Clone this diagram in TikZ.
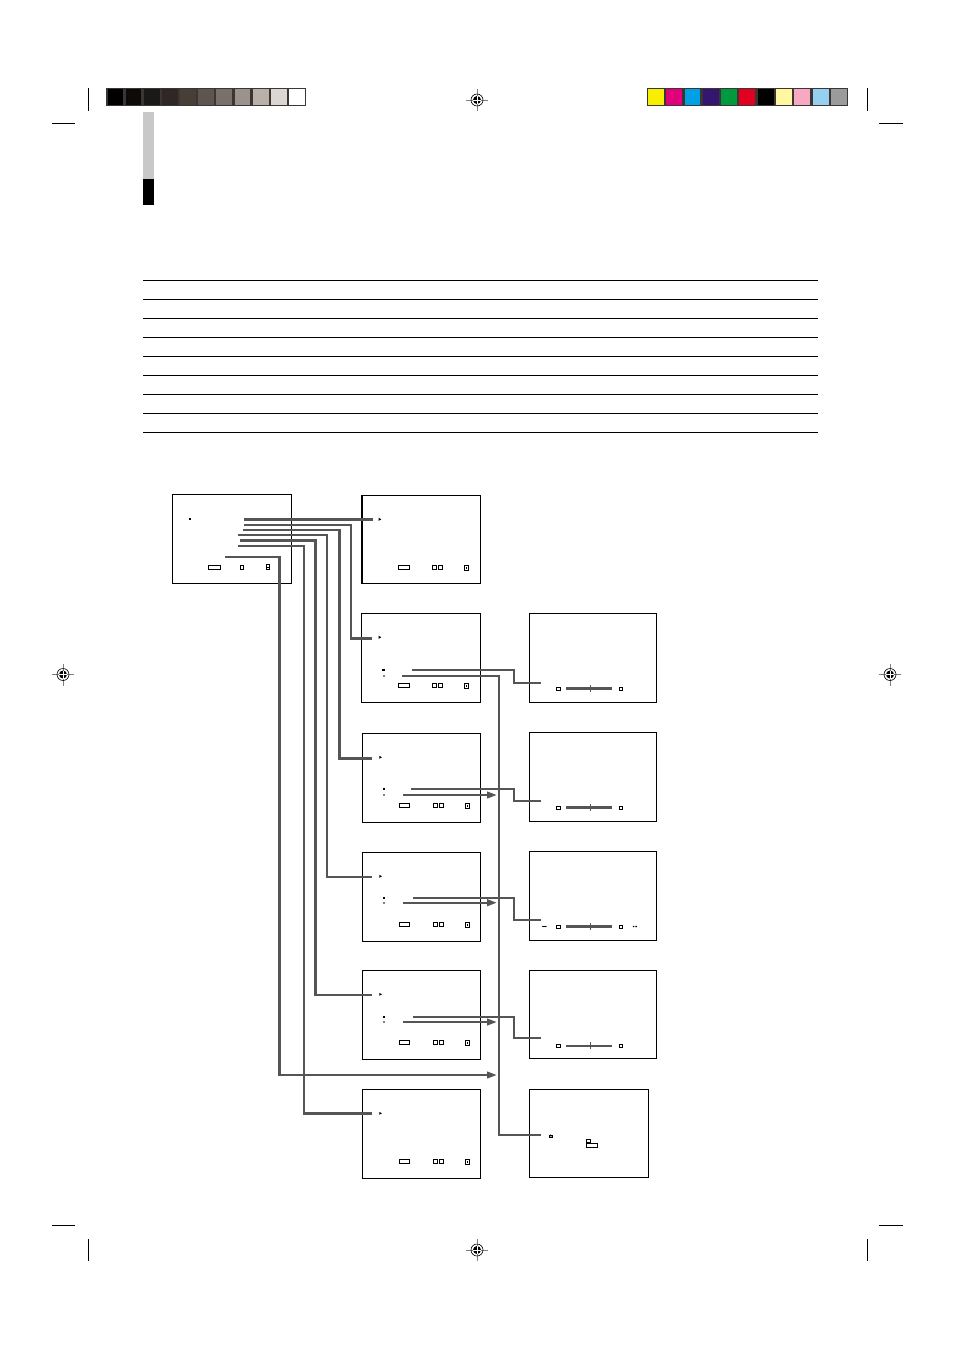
\documentclass[tikz,border=0pt]{standalone}
\usepackage{xcolor}
\usepackage{tikz}
\usetikzlibrary{positioning, arrows.meta}

\definecolor{wirecol}{HTML}{555555}
\definecolor{framecol}{HTML}{3B3634}
\definecolor{tabgray}{HTML}{C8C8C8}
\definecolor{ga}{HTML}{000000}
\definecolor{gb}{HTML}{0D0A0A}
\definecolor{gc}{HTML}{1B1918}
\definecolor{gd}{HTML}{2F2725}
\definecolor{ge}{HTML}{473E38}
\definecolor{gf}{HTML}{5F5550}
\definecolor{gg}{HTML}{7A6F6B}
\definecolor{gh}{HTML}{9C928D}
\definecolor{gi}{HTML}{B9B0AA}
\definecolor{gj}{HTML}{DCD6D2}
\definecolor{gk}{HTML}{FFFFFF}
\definecolor{ca}{HTML}{F8EE00}
\definecolor{cb}{HTML}{E0007B}
\definecolor{cc}{HTML}{00A0E6}
\definecolor{cd}{HTML}{341570}
\definecolor{ce}{HTML}{009A3E}
\definecolor{cf}{HTML}{E0001F}
\definecolor{cg}{HTML}{000000}
\definecolor{ch}{HTML}{FFF8A0}
\definecolor{ci}{HTML}{F5A9C2}
\definecolor{cj}{HTML}{97CFF2}
\definecolor{ck}{HTML}{9B9B9B}

\tikzset{
    screen/.style={draw, line width=1pt, inner sep=0pt, outer sep=0pt,
        minimum width=119pt, minimum height=89pt, anchor=north west},
    wide screen/.style={screen, minimum width=127.4pt},
    wire/.style={draw=wirecol, line width=2.4pt},
    wire arrow/.style={wire, -{Triangle[length=10pt, width=6.5pt]}},
    cropline/.style={line width=0.8pt},
    regline/.style={draw=gray, line width=0.6pt},
    knob/.style={draw, line width=0.8pt}
}

\begin{document}
\begin{tikzpicture}[x=1pt, y=-1pt]
    \useasboundingbox (0,0) rectangle (954,1351);

    % crop marks
    \draw[cropline] (88,88) -- (88,111) (52,123) -- (75,123)
        (867,88) -- (867,111) (879,123) -- (903,123)
        (52,1225) -- (75,1225) (88,1239) -- (88,1261)
        (879,1225) -- (903,1225) (867,1239) -- (867,1261);

    \foreach \p in {(477,100), (63,674.5), (890,674.5), (477,1250)} {
        \draw[regline] \p ++(-11,0) -- ++(22,0) \p ++(0,-11) -- ++(0,22);
        \draw[line width=0.6pt] \p circle (6);
        \fill \p circle (4);
        \draw[white, line width=0.6pt] \p ++(-4,0) -- ++(8,0) \p ++(0,-4) -- ++(0,8);
    }

    % colour bars
    \fill[framecol] (106.3,88) rectangle (306,106);
    \foreach \c [count=\i from 0] in {ga,gb,gc,gd,ge,gf,gg,gh,gi,gj,gk}
        \fill[\c] (107.5+\i*18.15,89.3) rectangle ++(15.8,15.4);
    \fill[framecol] (646.7,88) rectangle (848,106);
    \foreach \c [count=\i from 0] in {ca,cb,cc,cd,ce,cf,cg,ch,ci,cj,ck}
        \fill[\c] (647.9+\i*18.3,89.3) rectangle ++(15.9,15.4);

    \fill[tabgray] (143,112) rectangle (154,179);
    \fill (143,179) rectangle (154,205);

    \foreach \k in {0,...,8}
        \draw[line width=0.8pt] (143,280.5+\k*18.94) -- (818,280.5+\k*18.94);

    % screens
    \node[screen, minimum width=119.4pt, minimum height=88.7pt] (main) at (172.3,494.3) {};
    \node[screen, minimum height=87.7pt] (a1) at (361.7,495.3) {};
    \node[screen] (a2) at (361.7,613.3) {};
    \node[screen, minimum width=118.4pt] (a3) at (362.3,733.3) {};
    \node[screen, minimum width=118.4pt] (a4) at (362.3,852.3) {};
    \node[screen, minimum width=118.4pt] (a5) at (362.3,970.3) {};
    \node[screen, minimum width=118pt] (a6) at (362.3,1089.3) {};
    \draw[line width=1.8pt] (a1.north west) -- (a1.south west);

    \node[wide screen] (b2) at (529.3,613.3) {};
    \node[wide screen] (b3) at (529.3,732.3) {};
    \node[wide screen] (b4) at (529.3,851.3) {};
    \node[wide screen, minimum height=88pt] (b5) at (529.3,970.3) {};
    \node[screen, minimum width=119.4pt, minimum height=88pt] (b6) at (529.3,1089.3) {};

    % screen contents
    \fill ([shift={(17,23.5)}]main.north west) rectangle ++(2,2);
    \draw[knob] ([shift={(36.4,71.4)}]main.north west) rectangle ++(11.6,3.4);
    \draw[knob] ([shift={(68.4,71.4)}]main.north west) rectangle ++(3,3.4);
    \draw[knob] ([shift={(94.4,70.4)}]main.north west) rectangle ++(2.4,5);
    \draw[line width=0.5pt] ([shift={(94.4,72.8)}]main.north west) -- ++(2.4,0);

    \foreach \s in {a1,a2,a3,a4,a5,a6} {
        \fill ([shift={(17,22.5)}]\s.north west) -- ++(2.6,1.5) -- ++(-2.6,1.5) -- cycle;
        \draw[knob] ([shift={(37,70.4)}]\s.north west) rectangle ++(10.4,3.4);
        \draw[knob] ([shift={(71,70.4)}]\s.north west) rectangle ++(3.6,3.4);
        \draw[knob] ([shift={(77,70.4)}]\s.north west) rectangle ++(3.6,3.4);
        \draw[knob] ([shift={(103,70.4)}]\s.north west) rectangle ++(3.8,4.8);
        \fill ([shift={(104.3,72)}]\s.north west) rectangle ++(1.2,1.6);
    }

    \foreach \s/\w in {b2/3, b3/3, b4/3, b5/2} {
        \draw[knob] ([shift={(27.4,73.6)}]\s.north west) rectangle ++(3.6,3.4);
        \draw[wirecol, line width=\w pt] ([shift={(37,75.2)}]\s.north west) -- ++(46,0);
        \draw[wirecol, line width=1.6pt] ([shift={(61,71.8)}]\s.north west) -- ++(0,6.8);
        \draw[knob] ([shift={(89.6,73.6)}]\s.north west) rectangle ++(3.6,3.4);
    }
    \draw[line width=0.5pt, {Stealth[length=1.6pt]}-{Stealth[length=1.6pt]}]
        ([shift={(12.5,75.2)}]b4.north west) -- ++(5,0);
    \fill ([shift={(103.5,74.5)}]b4.north west) rectangle ++(1.5,1.4)
        ([shift={(106,74.5)}]b4.north west) rectangle ++(1.5,1.4);

    \fill ([shift={(19.5,47)}]b6.north west) -- ++(1.5,-2) -- ++(1.5,2) -- cycle;
    \draw[line width=0.5pt] ([shift={(19.5,45.7)}]b6.north west) rectangle ++(3,2);
    \draw[knob] ([shift={(57.1,49.8)}]b6.north west) rectangle ++(3.5,3.6);
    \draw[knob] ([shift={(57.1,53.8)}]b6.north west) rectangle ++(10.5,4.2);

    % small entries beside the sub lines
    \foreach \s/\u/\l in {a2/56.7/62.4, a3/55.7/61.7, a4/45.7/50.4, a5/46.7/51.7} {
        \fill ([shift={(20.5,\u-0.6)}]\s.north west) rectangle ++(2.4,1.4);
        \fill[gray] ([shift={(21,\l-0.8)}]\s.north west) rectangle ++(1.8,1.8);
    }

    % connectors
    \coordinate (o1) at (244,519.3);
    \coordinate (o2) at (244,524.7);
    \coordinate (o3) at (243,530);
    \coordinate (o4) at (238,534.7);
    \coordinate (o5) at (240,540.3);
    \coordinate (o6) at (238,545.7);
    \coordinate (o7) at (225,557);
    \coordinate (i1) at (372.7,519.3);
    \coordinate (i2) at (371.7,638.3);
    \coordinate (i3) at (371.7,758.3);
    \coordinate (i4) at (371.7,876.7);
    \coordinate (i5) at (371.7,994.7);
    \coordinate (i6) at (372,1113.3);
    \coordinate (bus7) at (497,1075);

    \draw[wire, line width=3pt] (o1) -- (i1);
    \draw[wire] (o2) -- ++(107,0) |- (i2);
    \draw[wire] (o3) -- ++(96.3,0) |- (i3);
    \draw[wire] (o4) -- ++(89,0) |- (i4);
    \draw[wire] (o5) -- ++(75.3,0) |- (i5);
    \draw[wire] (o6) -- ++(66,0) |- (i6);
    \draw[wire arrow] (o7) -- ++(54.3,0) |- (bus7);

    \coordinate (s2a) at (412.3,670);
    \coordinate (s2b) at (402.3,675.7);
    \coordinate (s3a) at (411,789);
    \coordinate (s3b) at (403.3,795);
    \coordinate (s4a) at (413.3,898);
    \coordinate (s4b) at (403.3,902.7);
    \coordinate (s5a) at (413.3,1017);
    \coordinate (s5b) at (403.3,1022);
    \coordinate (b2in) at (540.7,682.7);
    \coordinate (b3in) at (540.7,800.7);
    \coordinate (b4in) at (540.7,919.7);
    \coordinate (b5in) at (540.7,1038);
    \coordinate (b6in) at (540.7,1135);
    \coordinate (bus3) at (497,795);
    \coordinate (bus4) at (497,902.7);
    \coordinate (bus5) at (497,1022);

    \draw[wire] (s2a) -- ++(101.7,0) |- (b2in);
    \draw[wire] (s3a) -- ++(103,0) |- (b3in);
    \draw[wire] (s4a) -- ++(100.7,0) |- (b4in);
    \draw[wire] (s5a) -- ++(100.7,0) |- (b5in);
    \draw[wire] (s2b) -- ++(96.4,0) |- (b6in);
    \draw[wire arrow] (s3b) -- (bus3);
    \draw[wire arrow] (s4b) -- (bus4);
    \draw[wire arrow] (s5b) -- (bus5);
\end{tikzpicture}
\end{document}
